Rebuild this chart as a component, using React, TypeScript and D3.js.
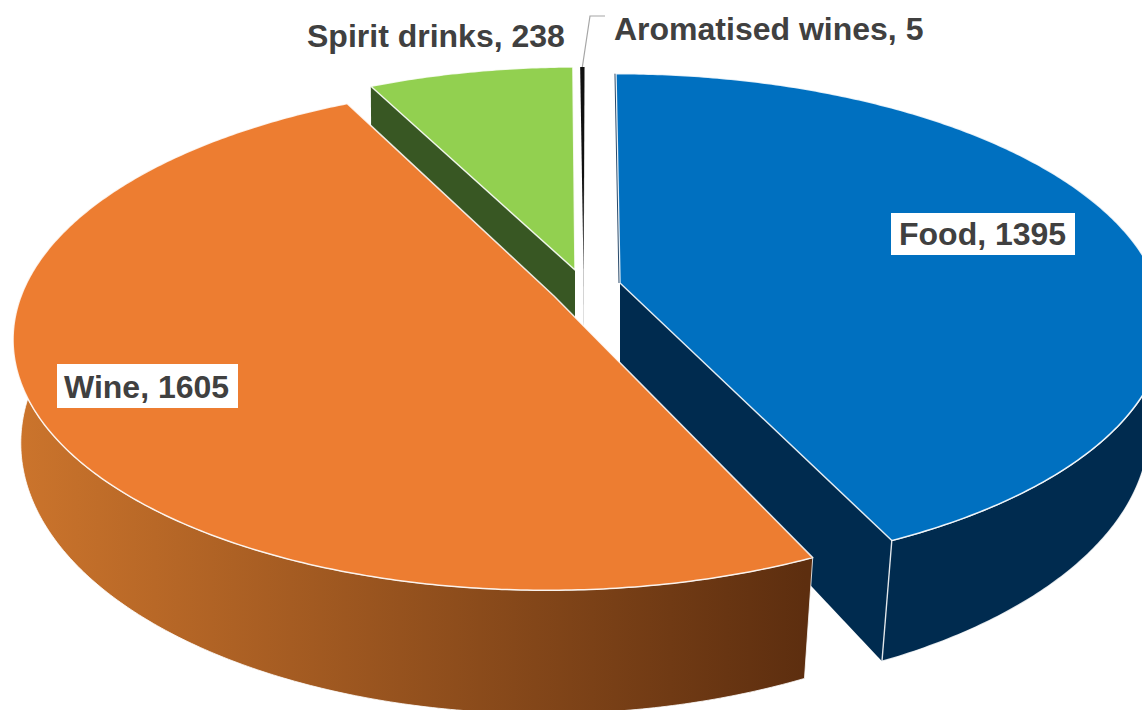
import React from "react";
import * as d3 from "d3";

const categories = ["Food", "Wine", "Spirit drinks", "Aromatised wines"];
const values = [1395, 1605, 238, 5];
const topColors = ["#0070c0", "#ed7d31", "#92d050", "#111111"];
const sideColors = ["#002b4f", "url(#wineWall)", "#385723", "#555555"];

// layout
const W = 1142, H = 710;
const apexes: [number, number][] = [[620, 283], [554, 296], [575, 270], [583.5, 270]];
const scaleX = [1.022, 1.015, 0.99, 1];
const scaleY = [1, 1.016, 0.97, 0.97];
const rx = 525, ry = 243, persp = 0.161, vanishX = 591, depth0 = 100, depthPow = 1.2, nadirX = 400, nadirT = 0.02;
const foodWallFrom = Math.PI * 0.36;
const wineWallSpan = Math.PI * 0.85;
const labels = [
  { x: 899, y: 245, box: [891, 213, 184, 42] },
  { x: 64, y: 398, box: [57, 364, 181, 44] },
  { x: 307, y: 47, box: null },
  { x: 614, y: 40, box: null },
];

type P = [number, number];
const top = (i: number, a: number): P => {
  const ap = apexes[i];
  const yw = Math.cos(a);
  const s = 1 / (1 + persp * yw);
  const X = ap[0] + rx * scaleX[i] * Math.sin(a);
  return [vanishX + (X - vanishX) * s, ap[1] - ry * scaleY[i] * yw * s];
};
const bottomOf = (p: P, a: number | null): P => {
  const s = a === null ? 1 : 1 / (1 + persp * Math.cos(a));
  return [p[0] + nadirT * (nadirX - p[0]), p[1] + depth0 * Math.pow(s, depthPow)];
};
const line = d3.line<P>().x((d) => d[0]).y((d) => d[1]);
const closed = (pts: P[]) => line(pts) + "Z";
const sweep = (a0: number, a1: number) => [...d3.range(a0, a1, 0.01), a1];
const wall = (i: number, angles: number[]) =>
  closed([
    ...angles.map((a) => top(i, a)),
    ...angles.slice().reverse().map((a) => bottomOf(top(i, a), a)),
  ]);

export default function App() {
  const arcs = d3.pie<number>().sort(null).value((d) => d)(values);
  const order = [3, 2, 0, 1];
  return (
    <svg width={W} height={H} style={{ position: "fixed", left: 0, top: 0, background: "#fff" }}>
      <defs>
        <linearGradient id="wineWall" gradientUnits="userSpaceOnUse" x1={20} x2={806} y1={0} y2={0}>
          <stop offset="0" stopColor="#cb742c" />
          <stop offset="1" stopColor="#5d2e0f" />
        </linearGradient>
      </defs>
      {order.map((i) => {
        const arc = arcs[i];
        const ap = apexes[i];
        const rimPts = sweep(arc.startAngle, arc.endAngle).map((a) => top(i, a));
        const apB = bottomOf(ap, null);
        const startP = top(i, arc.startAngle);
        const endP = top(i, arc.endAngle);
        return (
          <g key={categories[i]}>
            {i === 0 && (
              <path d={closed([ap, endP, bottomOf(endP, arc.endAngle), [ap[0], apB[1]]])} fill={sideColors[i]} />
            )}
            {i === 2 && (
              <path d={closed([ap, startP, bottomOf(startP, arc.startAngle), [ap[0], apB[1]]])} fill={sideColors[i]} />
            )}
            {i === 3 && <path d={closed([ap, endP, [ap[0], apB[1]]])} fill={sideColors[i]} />}
            {i === 1 && (
              <path d={wall(i, sweep(arc.startAngle, arc.startAngle + wineWallSpan))} fill={sideColors[i]} stroke="#fff" strokeWidth={0.8} />
            )}
            {i === 0 && (
              <path d={wall(i, sweep(foodWallFrom, arc.endAngle))} fill={sideColors[i]} stroke="#fff" strokeOpacity={0.85} strokeWidth={1.4} />
            )}
            <path
              d={closed([ap, ...rimPts])}
              fill={topColors[i]}
              stroke={i === 3 ? "none" : "#fff"}
              strokeWidth={i === 3 ? 0 : 1.5}
              strokeOpacity={0.85}
              strokeLinejoin="round"
            />
            {i === 0 && <path d={line([ap, startP]) as string} stroke="#2a4a6a" strokeWidth={1} fill="none" transform="translate(-1,0)" />}
          </g>
        );
      })}
      <path
        d={line([top(3, (arcs[3].startAngle + arcs[3].endAngle) / 2), [590, 16], [605, 16]]) as string}
        fill="none"
        stroke="#a6a6a6"
        strokeWidth={1.2}
      />
      {categories.map((c, i) => (
        <g key={c}>
          {labels[i].box && (
            <rect x={labels[i].box![0]} y={labels[i].box![1]} width={labels[i].box![2]} height={labels[i].box![3]} fill="#fff" />
          )}
          <text x={labels[i].x} y={labels[i].y} fontFamily="'Liberation Sans', Arial, sans-serif" fontWeight={700} fontSize={32} fill="#404040">
            {`${c}, ${values[i]}`}
          </text>
        </g>
      ))}
    </svg>
  );
}
